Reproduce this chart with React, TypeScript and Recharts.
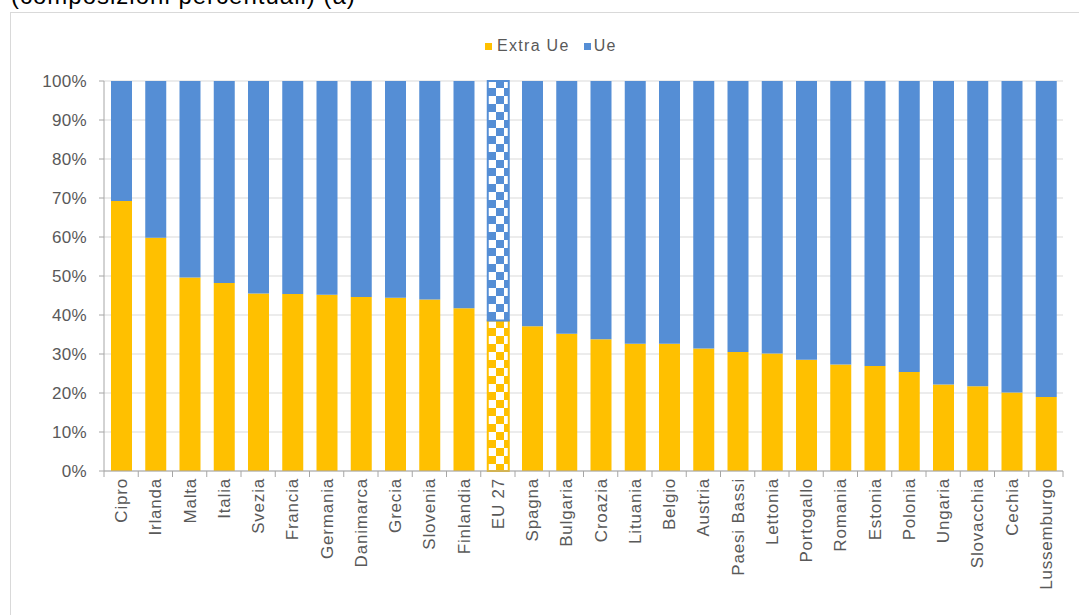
import { BarChart, Bar, XAxis, YAxis, CartesianGrid, Cell } from "recharts";

const categories = [
  "Cipro", "Irlanda", "Malta", "Italia", "Svezia", "Francia", "Germania",
  "Danimarca", "Grecia", "Slovenia", "Finlandia", "EU 27", "Spagna", "Bulgaria",
  "Croazia", "Lituania", "Belgio", "Austria", "Paesi Bassi", "Lettonia",
  "Portogallo", "Romania", "Estonia", "Polonia", "Ungaria", "Slovacchia",
  "Cechia", "Lussemburgo",
];

const extraUe = [
  69.2, 59.8, 49.6, 48.2, 45.5, 45.4, 45.2, 44.6, 44.4, 44.0, 41.7, 38.6, 37.1,
  35.2, 33.8, 32.6, 32.6, 31.4, 30.5, 30.1, 28.5, 27.3, 26.9, 25.4, 22.2, 21.7,
  20.1, 19.0,
];

const ue = [
  30.8, 40.2, 50.4, 51.8, 54.5, 54.6, 54.8, 55.4, 55.6, 56.0, 58.3, 61.4, 62.9,
  64.8, 66.2, 67.4, 67.4, 68.6, 69.5, 69.9, 71.5, 72.7, 73.1, 74.6, 77.8, 78.3,
  79.9, 81.0,
];

const yTicks = [0, 10, 20, 30, 40, 50, 60, 70, 80, 90, 100];

const seriesNames = ["Extra Ue", "Ue"];
const highlight = "EU 27";

const YELLOW = "#FFC000";
const BLUE = "#558ED5";
const TEXT = "#595959";
const FONT = "'Liberation Sans', Arial, sans-serif";

const W = 1079;
const H = 615;
const margin = { top: 81, right: 16, bottom: 0, left: 0 };
const Y_AXIS_W = 104;
const STEP = (W - margin.left - margin.right - Y_AXIS_W) / categories.length;

const data = categories.map((name, i) => ({
  name,
  extra: extraUe[i],
  ue: ue[i],
}));

function CategoryTick(props: any) {
  const { x, y, payload, index } = props;
  const half = STEP / 2;
  return (
    <g>
      <line x1={x - half} x2={x - half} y1={y - 7} y2={y - 1} stroke="#a6a6a6" />
      {index === categories.length - 1 && (
        <line x1={x + half} x2={x + half} y1={y - 7} y2={y - 1} stroke="#a6a6a6" />
      )}
      <text
        x={x}
        y={y}
        dy="0.35em"
        transform={`rotate(-90, ${x}, ${y})`}
        textAnchor="end"
        fill={TEXT}
        fontSize={17}
        letterSpacing={0.8}
        fontFamily={FONT}
      >
        {payload.value}
      </text>
    </g>
  );
}

export default function App() {
  return (
    <div
      style={{
        position: "absolute",
        left: 0,
        top: 0,
        width: W,
        height: H,
        overflow: "hidden",
        background: "#fff",
        fontFamily: FONT,
      }}
    >
      {/* checkerboard fills for the EU 27 bar */}
      <svg width={0} height={0} style={{ position: "absolute" }}>
        <defs>
          <pattern id="checkYellow" patternUnits="userSpaceOnUse" width={16} height={16}>
            <rect width={16} height={16} fill="#fff" />
            <rect x={0} y={0} width={8} height={8} fill={YELLOW} />
            <rect x={8} y={8} width={8} height={8} fill={YELLOW} />
          </pattern>
          <pattern id="checkBlue" patternUnits="userSpaceOnUse" width={16} height={16}>
            <rect width={16} height={16} fill="#fff" />
            <rect x={0} y={0} width={8} height={8} fill={BLUE} />
            <rect x={8} y={8} width={8} height={8} fill={BLUE} />
          </pattern>
        </defs>
      </svg>

      <div
        style={{
          position: "absolute",
          left: 10,
          top: 12,
          width: W,
          height: H,
          border: "1px solid #d9d9d9",
        }}
      />

      <div
        style={{
          position: "absolute",
          left: 11,
          top: -17,
          fontSize: 24,
          lineHeight: "26px",
          letterSpacing: 1,
          color: "#000",
          whiteSpace: "nowrap",
        }}
      >
        (composizioni percentuali) (a)
      </div>

      <div
        style={{
          position: "absolute",
          left: 485,
          top: 37,
          display: "flex",
          alignItems: "center",
          fontSize: 16,
          letterSpacing: 1.3,
          color: TEXT,
          whiteSpace: "nowrap",
        }}
      >
        <span style={{ width: 7, height: 7, background: YELLOW, marginRight: 5 }} />
        <span style={{ marginRight: 14 }}>{seriesNames[0]}</span>
        <span style={{ width: 7, height: 7, background: BLUE, marginRight: 3 }} />
        <span>{seriesNames[1]}</span>
      </div>

      <div style={{ position: "absolute", left: 0, top: 0 }}>
        <BarChart width={W} height={H} data={data} margin={margin}>
          <CartesianGrid vertical={false} stroke="#d9d9d9" />
          <XAxis
            dataKey="name"
            interval={0}
            height={H - 471}
            tickLine={false}
            tickSize={6}
            tickMargin={1}
            axisLine={{ stroke: "#a6a6a6" }}
            tick={<CategoryTick />}
          />
          <YAxis
            width={Y_AXIS_W}
            domain={[0, 100]}
            ticks={yTicks}
            tickFormatter={(v: number) => `${v}%`}
            tickSize={5}
            tickMargin={12}
            axisLine={{ stroke: "#a6a6a6" }}
            tickLine={{ stroke: "#a6a6a6" }}
            tick={{ fill: TEXT, fontSize: 17, letterSpacing: 0.3, fontFamily: FONT }}
          />
          <Bar dataKey="extra" name={seriesNames[0]} stackId="a" fill={YELLOW} barSize={21} isAnimationActive={false}>
            {data.map((d, idx) =>
              d.name === highlight ? (
                <Cell key={`e-${idx}`} fill="url(#checkYellow)" stroke={YELLOW} strokeWidth={2} />
              ) : (
                <Cell key={`e-${idx}`} fill={YELLOW} />
              )
            )}
          </Bar>
          <Bar dataKey="ue" name={seriesNames[1]} stackId="a" fill={BLUE} barSize={21} isAnimationActive={false}>
            {data.map((d, idx) =>
              d.name === highlight ? (
                <Cell key={`u-${idx}`} fill="url(#checkBlue)" stroke={BLUE} strokeWidth={2} />
              ) : (
                <Cell key={`u-${idx}`} fill={BLUE} />
              )
            )}
          </Bar>
        </BarChart>
      </div>
    </div>
  );
}
